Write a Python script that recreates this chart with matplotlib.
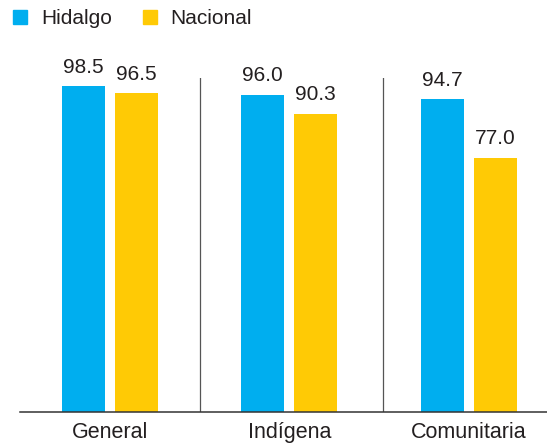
import matplotlib
matplotlib.use("Agg")
import matplotlib.pyplot as plt
import numpy as np
from matplotlib.patches import Rectangle

categories = ["General", "Indígena", "Comunitaria"]
series_names = ["Hidalgo", "Nacional"]
hidalgo = [98.5, 96.0, 94.7]
nacional = [96.5, 90.3, 77.0]

BLUE = "#00AEEF"
YELLOW = "#FFCA05"
TEXT = "#231F20"

plt.rcParams["font.family"] = ["Liberation Sans", "DejaVu Sans"]

W, H = 547, 448
fig = plt.figure(figsize=(W / 100, H / 100), dpi=100)
ax = fig.add_axes([20 / W, 36 / H, 527 / W, 334 / H])

x = np.arange(len(categories))
width = 0.24
off = 0.148
b1 = ax.bar(x - off, hidalgo, width, color=BLUE)
b2 = ax.bar(x + off, nacional, width, color=YELLOW)

for bars, vals in ((b1, hidalgo), (b2, nacional)):
    for rect, v in zip(bars, vals):
        ax.annotate(f"{v:.1f}", (rect.get_x() + rect.get_width() / 2, v),
                    xytext=(0, 9.6), textcoords="offset points",
                    ha="center", va="baseline", fontsize=15, color=TEXT)

for sx in (0.500, 1.524):
    ax.axvline(sx, color="#555555", lw=0.9)

ax.set_xlim(-0.502, 2.437)
ax.set_ylim(0, 101.06)
ax.set_yticks([])
ax.set_xticks(x)
ax.set_xticklabels(categories, fontsize=15.5, color=TEXT)
ax.tick_params(axis="x", length=0, pad=7)
for s in ("left", "right", "top"):
    ax.spines[s].set_visible(False)
ax.spines["bottom"].set_color("#333333")
ax.spines["bottom"].set_linewidth(1.1)

# legend
leg_items = [(13, 41, BLUE), (143, 170, YELLOW)]
for (sq_x, tx, col), name in zip(leg_items, series_names):
    fig.patches.append(Rectangle((sq_x / W, (H - 24) / H), 14 / W, 14 / H,
                                 transform=fig.transFigure, color=col))
    fig.text(tx / W, (H - 24) / H, name, fontsize=15, color=TEXT,
             ha="left", va="baseline")

fig.savefig("out.png", dpi=100)
